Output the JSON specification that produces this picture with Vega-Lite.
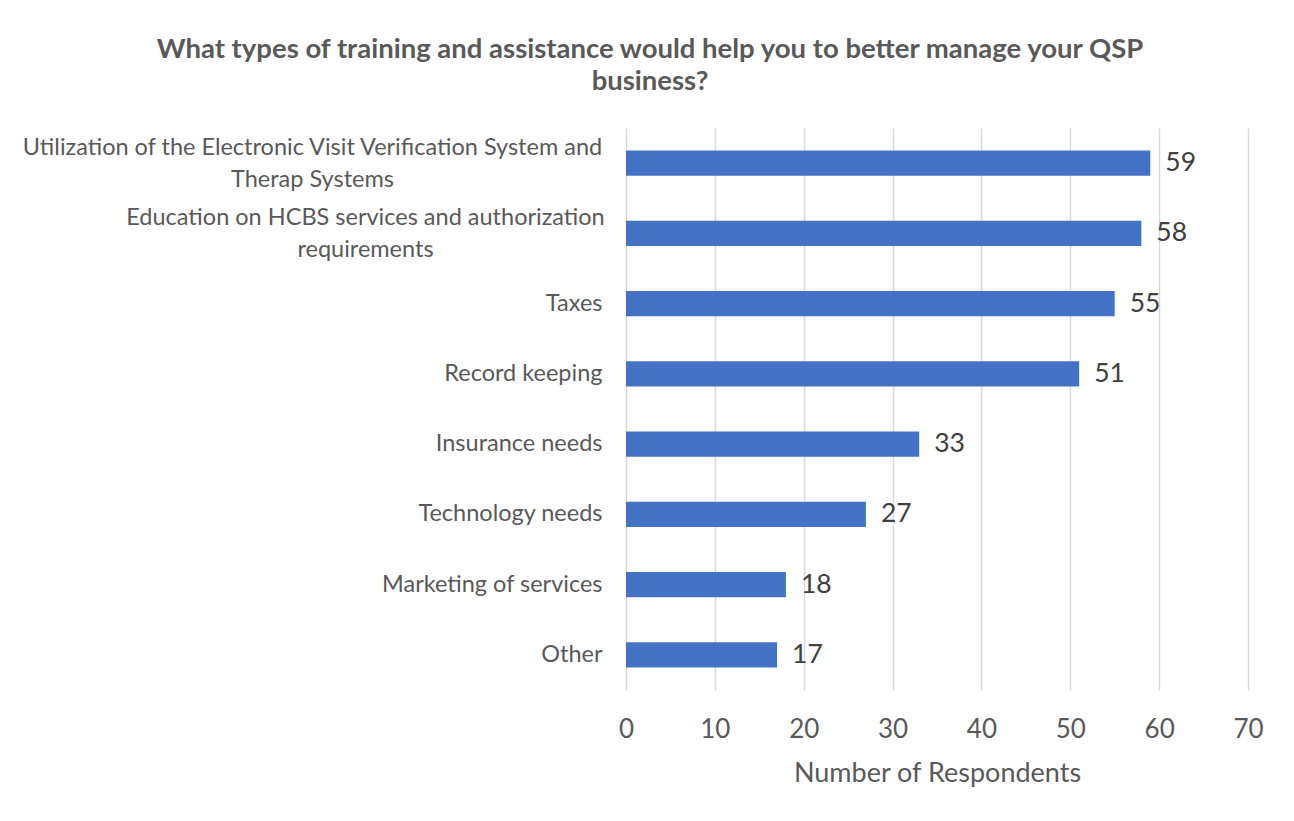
{
  "$schema": "https://vega.github.io/schema/vega-lite/v6.json",
  "width": 622,
  "height": 562,
  "autosize": "none",
  "padding": {"left": 626, "top": 128, "right": 46, "bottom": 131},
  "background": "white",
  "title": {
    "text": ["What types of training and assistance would help you to better manage your QSP", "business?"],
    "font": "Lato",
    "fontSize": 27.5,
    "fontWeight": "bold",
    "color": "#595959",
    "anchor": "middle",
    "frame": "group",
    "dx": -287,
    "lineHeight": 32,
    "offset": 33
  },
  "data": {
    "values": [
      {"category": "Utilization of the Electronic Visit Verification System and Therap Systems", "respondents": 59},
      {"category": "Education on HCBS services and authorization requirements", "respondents": 58},
      {"category": "Taxes", "respondents": 55},
      {"category": "Record keeping", "respondents": 51},
      {"category": "Insurance needs", "respondents": 33},
      {"category": "Technology needs", "respondents": 27},
      {"category": "Marketing of services", "respondents": 18},
      {"category": "Other", "respondents": 17}
    ]
  },
  "encoding": {
    "y": {
      "field": "category",
      "type": "nominal",
      "sort": null,
      "scale": {"paddingInner": 0.64, "paddingOuter": 0.32},
      "axis": {
        "title": null,
        "domain": false,
        "ticks": false,
        "tickSize": 0,
        "labelFont": "Lato",
        "labelFontSize": 23.5,
        "labelColor": "#595959",
        "labelLimit": 700,
        "labelLineHeight": 32,
        "labelAlign": {"condition": {"test": "length(datum.value) > 40", "value": "center"}, "value": "right"},
        "labelOffset": {"condition": {"test": "length(datum.value) > 40", "value": -15}, "value": 0},
        "labelPadding": {"condition": [{"test": "length(datum.value) > 70", "value": 314}, {"test": "length(datum.value) > 40", "value": 261}], "value": 24},
        "labelExpr": "datum.value == 'Utilization of the Electronic Visit Verification System and Therap Systems' ? ['Utilization of the Electronic Visit Verification System and', 'Therap Systems'] : datum.value == 'Education on HCBS services and authorization requirements' ? ['Education on HCBS services and authorization', 'requirements'] : datum.value"
      }
    },
    "x": {
      "field": "respondents",
      "type": "quantitative",
      "scale": {"domain": [0, 70], "nice": false},
      "axis": {
        "values": [0, 10, 20, 30, 40, 50, 60, 70],
        "title": "Number of Respondents",
        "titleFont": "Lato",
        "titleFontSize": 27,
        "titleFontWeight": "normal",
        "titleColor": "#595959",
        "titlePadding": 18,
        "domain": false,
        "ticks": false,
        "tickSize": 0,
        "labelFont": "Lato",
        "labelFontSize": 26,
        "labelColor": "#595959",
        "labelPadding": 26,
        "labelFlush": false,
        "grid": true,
        "gridColor": "#d9d9d9",
        "gridWidth": 1.5
      }
    }
  },
  "layer": [
    {"mark": {"type": "bar", "color": "#4472C4"}},
    {
      "mark": {"type": "text", "align": "left", "baseline": "middle", "dx": 15, "font": "Lato", "fontSize": 26.5, "color": "#404040"},
      "encoding": {"text": {"field": "respondents", "type": "quantitative"}}
    }
  ],
  "config": {"view": {"stroke": null}}
}
